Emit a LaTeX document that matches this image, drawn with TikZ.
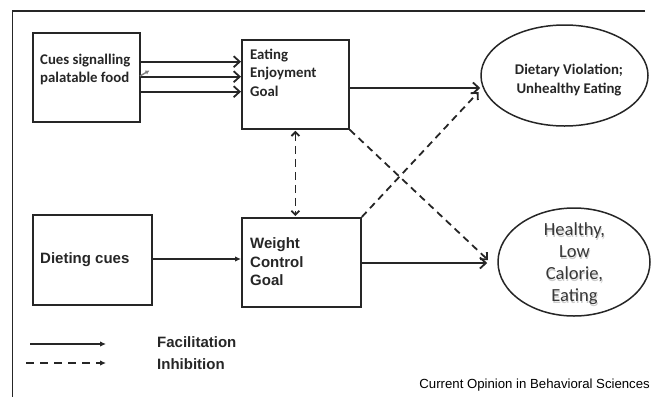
\documentclass[tikz,border=0pt]{standalone}
\usepackage{fontspec}
\setmainfont{Liberation Sans}
\newfontfamily\calib{Carlito}
\newfontfamily\arl{Liberation Sans}
\usetikzlibrary{arrows.meta,shapes.geometric,calc}
\begin{document}
\begin{tikzpicture}[x=1pt,y=-1pt,
  box/.style={draw, line width=1.8pt, rectangle, inner sep=0pt, anchor=north west, draw=black!85},
  oval/.style={draw, line width=1.5pt, ellipse, inner sep=0pt, draw=black!85},
  ctext/.style={font=\calib\bfseries\fontsize{14.8}{18.5}\selectfont, align=left, inner sep=0pt, text=black!85},
  atext/.style={font=\arl\bfseries\fontsize{15}{18.5}\selectfont, align=left, inner sep=0pt, text=black!85},
  fac/.style={line width=1.8pt, draw=black!85, -{Straight Barb[length=6pt,width=11pt,line width=1.8pt]}},
  inh/.style={line width=1.8pt, draw=black!85, dash pattern=on 7pt off 5pt, -{Straight Barb[length=5pt,width=10pt,line width=1.8pt]}},
  smallfac/.style={line width=1.5pt, draw=black!85, -{Latex[length=6pt,width=5.5pt]}},
  smallinh/.style={line width=1.5pt, draw=black!85, dash pattern=on 8pt off 6pt, -{Latex[length=6pt,width=5.5pt]}},
]
\useasboundingbox (0,0) rectangle (653,397);
% frame
\coordinate (fr1) at (645,11);
\coordinate (fr2) at (12.5,11);
\coordinate (fr3) at (12.5,397);
\draw[line width=1.4pt, black!85] (fr1) -- (fr2) -- (fr3);

% boxes
\node[box, minimum width=107pt, minimum height=89pt] (cues) at (32,32) {};
\node[ctext, anchor=west] (cuesT) at (40,69.5) {Cues signalling\\palatable food};

\node[box, minimum width=107pt, minimum height=89pt] (eat) at (241,39) {};
\node[ctext, anchor=west] (eatT) at (250,72.5) {Eating\\Enjoyment\\Goal};

\node[box, minimum width=119pt, minimum height=90pt] (dc) at (32,214) {};
\node[atext, anchor=west] (dcT) at (40,260) {Dieting cues};

\node[box, minimum width=119pt, minimum height=89pt] (wc) at (241,217) {};
\node[atext, anchor=west] (wcT) at (250,262) {Weight\\Control\\Goal};

% ellipses
\node[oval, minimum width=167pt, minimum height=101pt] (diet) at (564.5,75.5) {};
\node[ctext, align=center] (dietT) at (569,80) {Dietary Violation;\\Unhealthy Eating};

\node[oval, minimum width=152pt, minimum height=108pt] (hl) at (574,262) {};
\node[font=\calib\fontsize{18.5}{22}\selectfont, align=center, inner sep=0pt, text=gray!40] (hlS) at (575.3,265.3) {Healthy,\\Low\\Calorie,\\Eating};
\node[font=\calib\fontsize{18.5}{22}\selectfont, align=center, inner sep=0pt, text=black!78] (hlT) at (574.5,264) {Healthy,\\Low\\Calorie,\\Eating};

% cue arrows
\draw[fac] (cues.east |- 0,61.7) -- (eat.west |- 0,61.7);
\draw[fac] (cues.east |- 0,76.7) -- (eat.west |- 0,76.7);
\draw[fac] (cues.east |- 0,91.7) -- (eat.west |- 0,91.7);
\coordinate (gA) at (140,76);
\coordinate (gB) at (149.5,70.5);
\draw[gray, line width=1.4pt, -{Latex[length=4pt,width=4.5pt]}] (gA) -- (gB);

% eating -> dietary
\draw[fac] (eat.east |- 0,88) -- (diet.west |- 0,88);
% weight -> healthy
\draw[fac] (wc.east |- 0,263) -- ($(hl.west |- 0,263)+(-10,0)$);
% dieting -> weight
\draw[smallfac] (dc.east |- 0,259) -- (wc.west |- 0,259);

% inhibition arrows
\coordinate (inh1) at (488,260);
\coordinate (inh2) at (478.5,92);
\draw[inh] (eat.south east) -- (inh1);
\draw[inh] (wc.north east) -- (inh2);
\draw[line width=1.8pt, draw=black!85, dash pattern=on 8pt off 5pt, {Straight Barb[length=4pt,width=8pt,line width=1.8pt]}-{Straight Barb[length=4pt,width=8pt,line width=1.8pt]}] ([yshift=-1pt]eat.south) -- ([yshift=1pt]eat.south |- wc.north);

% legend
\coordinate (l1a) at (30,344);
\coordinate (l1b) at (106,344);
\coordinate (l2a) at (26,363);
\coordinate (l2b) at (106,363);
\draw[smallfac] (l1a) -- (l1b);
\draw[smallinh] (l2a) -- (l2b);
\node[atext, anchor=west] (facT) at (157,342) {Facilitation};
\node[atext, anchor=west] (inhT) at (157,364) {Inhibition};

\node[font=\arl\fontsize{13.2}{15}\selectfont, anchor=east, inner sep=0pt] (src) at (650,385) {Current Opinion in Behavioral Sciences};
\end{tikzpicture}
\end{document}
